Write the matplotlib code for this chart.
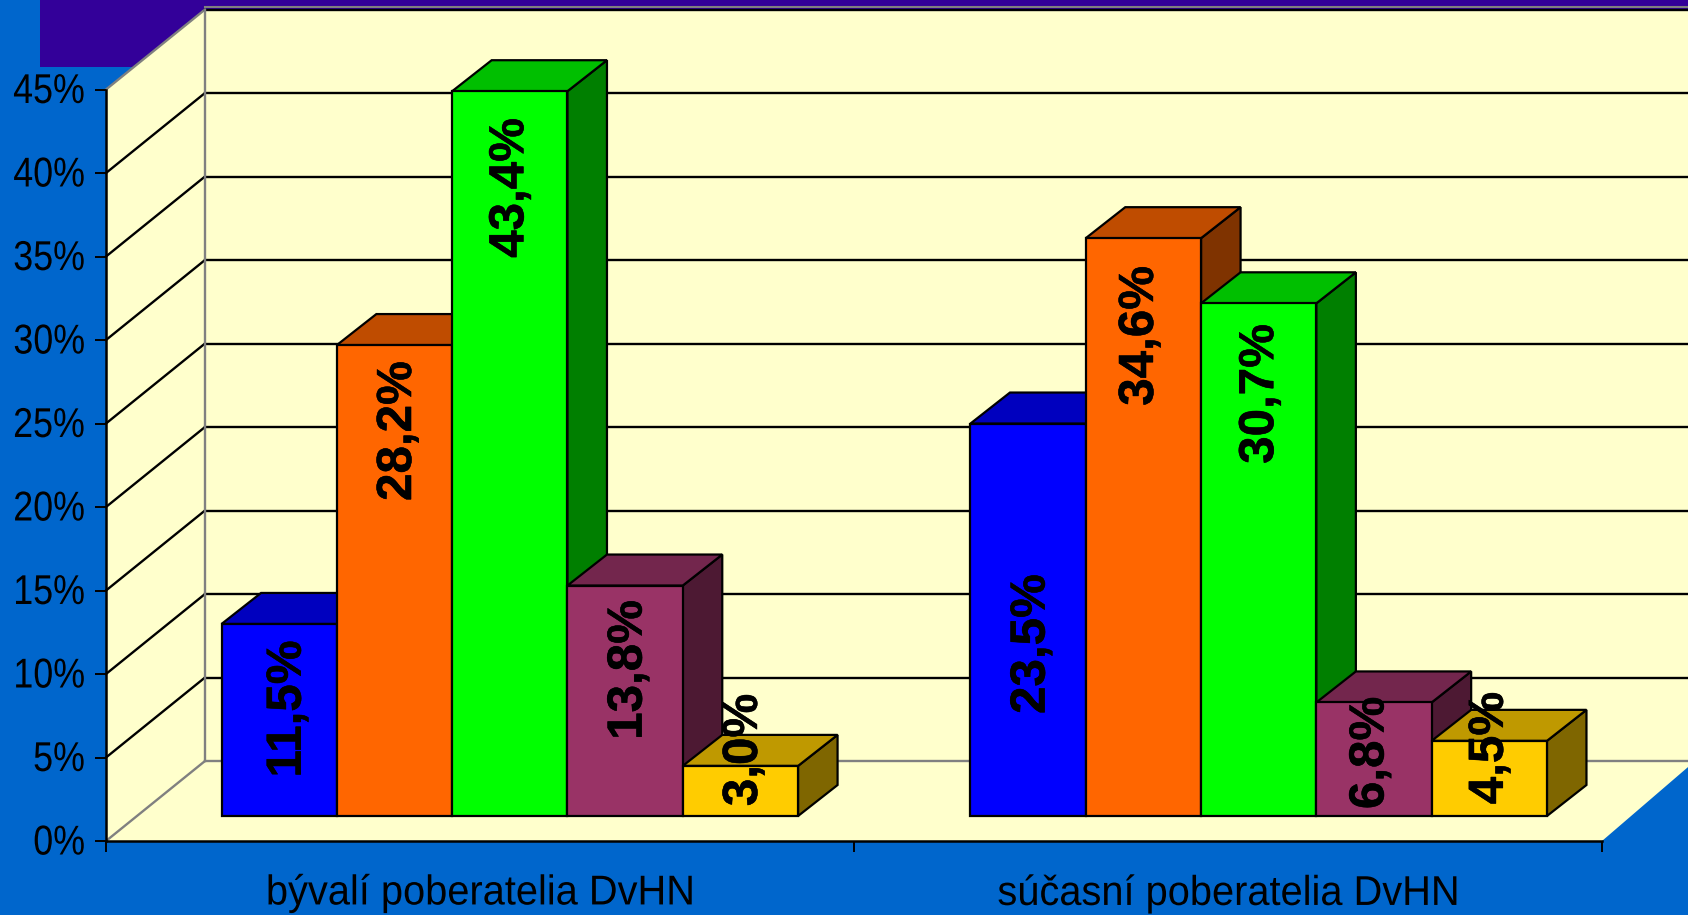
import matplotlib
matplotlib.use('Agg')
import matplotlib.pyplot as plt
from matplotlib.patches import Polygon, Rectangle
from matplotlib.patheffects import AbstractPathEffect, withStroke
from matplotlib.transforms import Affine2D

# data
categories = ['bývalí poberatelia DvHN', 'súčasní poberatelia DvHN']
group1 = [11.5, 28.2, 43.4, 13.8, 3.0]
group2 = [23.5, 34.6, 30.7, 6.8, 4.5]
labels1 = ['11,5%', '28,2%', '43,4%', '13,8%', '3,0%']
labels2 = ['23,5%', '34,6%', '30,7%', '6,8%', '4,5%']
ytick_values = [0, 5, 10, 15, 20, 25, 30, 35, 40, 45]

# front, top, side colours per series
front_colors = ['#0000FF', '#FF6600', '#00FF00', '#993366', '#FFCC00']
top_colors = ['#0000BF', '#BF4C00', '#00BF00', '#73264D', '#BF9900']
side_colors = ['#00007F', '#7F3300', '#007F00', '#4D1933', '#7F6600']

W, H = 1688, 915
BG = '#0066CC'
WALL = '#FFFFCC'

# layout, in pixels of the picture
LEFT, RIGHT, FLOOR, TOP45 = 106, 1602, 841, 89.5
PX_X = (RIGHT - LEFT) / 2.0
PX_Y = (FLOOR - TOP45) / 45.0
WALL_DX, WALL_DY = 99 / PX_X, 80 / PX_Y
BAR_DX, BAR_DY = 39.5 / PX_X, 31 / PX_Y
BAR_W = 115.3 / PX_X
BAR_BASE = 25 / PX_Y
GROUP_X = [0.1545, 1.1557]
# centre of each data label along the bar, pixels from the top
label_y1 = [709, 431, 188, 670, 750]
label_y2 = [644, 336, 394, 753, 748]
label_dx1 = [9, 4, 1, 4, 4]
label_dx2 = [4, -3, 2, -3, 1]


class Squeeze(AbstractPathEffect):
    # narrows a text horizontally, the tick font of the original is condensed
    def __init__(self, factor, pivot, up=0):
        super().__init__()
        self.factor = factor
        self.pivot = pivot
        self.up = up

    def draw_path(self, renderer, gc, tpath, affine, rgbFace=None):
        box = tpath.get_extents(affine)
        px = box.x1 if self.pivot == 'right' else (box.x0 + box.x1) / 2
        squeezed = affine + Affine2D().translate(-px, 0).scale(self.factor, 1).translate(px, self.up)
        renderer.draw_path(gc, tpath, squeezed, rgbFace)


def val(py):
    return (FLOOR - py) / PX_Y


def bar3d(ax, x, v, i):
    b = BAR_BASE
    t = b + v
    r = x + BAR_W
    style = dict(edgecolor='black', linewidth=1.6, joinstyle='miter', clip_on=False, zorder=5 + i * 0.1)
    ax.add_patch(Polygon([(r, b), (r + BAR_DX, b + BAR_DY), (r + BAR_DX, t + BAR_DY), (r, t)],
                         facecolor=side_colors[i], **style))
    ax.add_patch(Polygon([(x, t), (r, t), (r + BAR_DX, t + BAR_DY), (x + BAR_DX, t + BAR_DY)],
                         facecolor=top_colors[i], **style))
    ax.add_patch(Rectangle((x, b), BAR_W, v, facecolor=front_colors[i], **style))


def plot_chart():
    plt.rcParams['font.family'] = ['Liberation Sans']
    fig = plt.figure(figsize=(W / 100, H / 100), dpi=100, facecolor=BG)
    fig.add_artist(Rectangle((40 / W, 1 - 67 / H), 1, 67 / H, transform=fig.transFigure,
                             facecolor='#330099', edgecolor='none', zorder=-1))

    ax = fig.add_axes([LEFT / W, 1 - FLOOR / H, (RIGHT - LEFT) / W, (FLOOR - TOP45) / H])
    ax.patch.set_visible(False)
    ax.set_xlim(0, 2)
    ax.set_ylim(0, 45)

    # walls and floor
    ax.add_patch(Polygon([(0, 0), (WALL_DX, WALL_DY), (WALL_DX, 45 + WALL_DY), (0, 45)],
                         facecolor=WALL, edgecolor='none', clip_on=False, zorder=1))
    ax.add_patch(Rectangle((WALL_DX, WALL_DY), 2, 45, facecolor=WALL, edgecolor='none', clip_on=False, zorder=1))
    ax.add_patch(Polygon([(0, 0), (2, 0), (2 + 0.94 * WALL_DX, WALL_DY), (WALL_DX, WALL_DY)],
                         facecolor=WALL, edgecolor='none', clip_on=False, zorder=1))

    # gridlines along both walls
    for v in ytick_values:
        ax.plot([0, WALL_DX], [v, v + WALL_DY], color='#808080' if v in (0, 45) else 'black',
                lw=1.7, clip_on=False, zorder=2)
        ax.plot([WALL_DX, 2.3], [v + WALL_DY, v + WALL_DY], color='#808080' if v == 0 else 'black',
                lw=1.7, clip_on=False, zorder=2)
    ax.plot([WALL_DX, 2.3], [45 + WALL_DY + 2.5 / PX_Y] * 2, color='#808080', lw=1.5, clip_on=False, zorder=2)
    ax.plot([WALL_DX, WALL_DX], [WALL_DY, 45 + WALL_DY], color='#808080', lw=1.7, clip_on=False, zorder=3)

    # bars
    for g, values in enumerate([group1, group2]):
        for i, v in enumerate(values):
            bar3d(ax, GROUP_X[g] + i * BAR_W, v, i)

    # data labels
    for g, (values, texts, ys, dxs) in enumerate([(group1, labels1, label_y1, label_dx1),
                                                  (group2, labels2, label_y2, label_dx2)]):
        for i, t in enumerate(texts):
            x = GROUP_X[g] + (i + 0.5) * BAR_W + dxs[i] / PX_X
            ax.text(x, val(ys[i]), t, rotation=90, ha='center', va='center', fontsize=35.5,
                    fontweight='bold', color='black', clip_on=False, zorder=10,
                    path_effects=[withStroke(linewidth=0.4, foreground='black')])

    # axes
    for s in ('top', 'right'):
        ax.spines[s].set_visible(False)
    for s in ('left', 'bottom'):
        ax.spines[s].set_linewidth(1.8)
        ax.spines[s].set_zorder(4)
    ax.set_yticks(ytick_values)
    ax.set_yticklabels(['%d%%' % v for v in ytick_values], fontsize=30)
    for t in ax.get_yticklabels():
        t.set_path_effects([Squeeze(0.86, 'right', up=2)])
    ax.set_xticks([0, 1, 2])
    ax.set_xticklabels([])
    ax.set_xticks([0.5, 1.5], minor=True)
    ax.set_xticklabels(categories, minor=True, fontsize=30)
    for t in ax.get_xticklabels(minor=True):
        t.set_path_effects([Squeeze(0.955, 'center')])
    ax.tick_params(axis='y', length=8, width=1.4, pad=7, color='black', labelcolor='black')
    ax.tick_params(axis='x', which='major', length=8, width=1.4)
    ax.tick_params(axis='x', which='minor', length=0, pad=23)
    ax.set_axisbelow(False)
    return fig


if __name__ == '__main__':
    fig = plot_chart()
    fig.savefig('out.png', dpi=100, facecolor=BG)
